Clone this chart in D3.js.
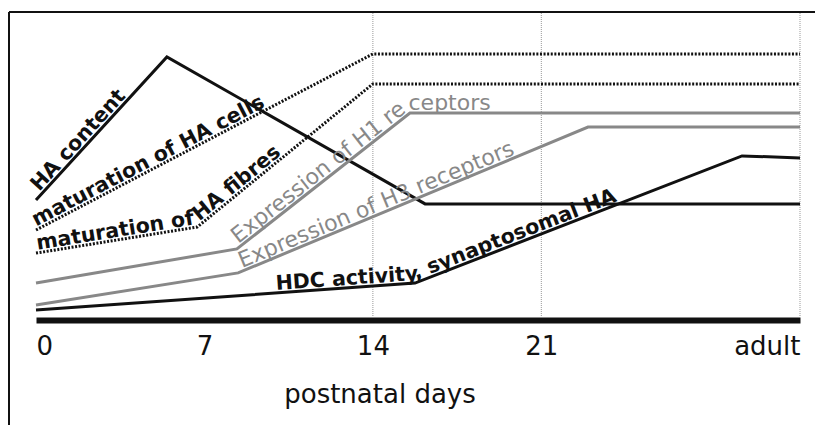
<!DOCTYPE html>
<html>
<head>
<meta charset="utf-8">
<script src="https://cdn.jsdelivr.net/npm/d3@7"></script>
<style>
  body { margin: 0; background: #fff; }
  svg { display: block; }
  .tick-label { font-family: "DejaVu Sans", sans-serif; font-size: 26px; fill: #111; }
  .curve-label { font-family: "DejaVu Sans", sans-serif; }
</style>
</head>
<body>
<svg id="chart"></svg>
<script>
// x positions are postnatal days, "adult" sits at the far right end
const tickDays = [0, 7, 14, 21, 31.75];
const tickLabels = ['0', '7', '14', '21', 'adult'];
const gridDays = [14, 21, 31.75];

// relative levels (0-100)
const haContent = [[0, 40], [5.44, 87.7], [16.17, 38.7], [31.75, 38.7]];
const haCells = [[0, 30], [14, 88.7], [31.75, 88.7]];
const haFibres = [[0, 22.3], [6.7, 31], [14, 78.7], [31.75, 78.7]];
const h1Receptors = [[0, 12.3], [8.35, 23.7], [15.54, 69], [31.75, 69]];
const h3Receptors = [[0, 5], [8.4, 15.7], [22.94, 64.3], [31.75, 64.3]];
const hdcActivity = [[0, 3.3], [15.75, 12.3], [29.34, 54.7], [31.75, 54]];

const series = [
    { id: 'ha-content', data: haContent, label: 'HA content', color: '#111', dotted: false, gray: false, offset: 8 },
    { id: 'ha-cells', data: haCells, label: 'maturation of HA cells', color: '#111', dotted: true, gray: false, offset: 2 },
    { id: 'ha-fibres', data: haFibres, label: 'maturation of HA fibres', color: '#111', dotted: true, gray: false, offset: 2 },
    { id: 'h1', data: h1Receptors, label: 'Expression of H1 receptors', color: '#888', dotted: false, gray: true, offset: 208 },
    { id: 'h3', data: h3Receptors, label: 'Expression of H3 receptors', color: '#888', dotted: false, gray: true, offset: 210 },
    { id: 'hdc', data: hdcActivity, label: 'HDC activity, synaptosomal HA', color: '#111', dotted: false, gray: false, offset: 241 }
];

const W = 815, H = 425;
const svg = d3.select('#chart').attr('width', W).attr('height', H);

const x = d3.scaleLinear().domain([0, 31.75]).range([36, 800]);
const y = d3.scaleLinear().domain([0, 100]).range([320, 20]);

// frame: top and left edges only
svg.append('line').attr('x1', 9).attr('x2', W).attr('y1', 12).attr('y2', 12)
    .attr('stroke', '#111').attr('stroke-width', 2);
svg.append('line').attr('x1', 9).attr('x2', 9).attr('y1', 12).attr('y2', H)
    .attr('stroke', '#111').attr('stroke-width', 2);

// dotted vertical grid
svg.append('g').selectAll('line')
    .data(gridDays)
    .enter()
    .append('line')
    .attr('x1', d => x(d)).attr('x2', d => x(d))
    .attr('y1', 13).attr('y2', 317)
    .attr('stroke', '#999').attr('stroke-width', 1)
    .attr('stroke-dasharray', '1,1');

const line = d3.line().x(d => x(d[0])).y(d => y(d[1]));

// curves
svg.append('g').selectAll('path')
    .data(series)
    .enter()
    .append('path')
    .attr('id', d => d.id)
    .attr('d', d => line(d.data))
    .attr('fill', 'none')
    .attr('stroke', d => d.color)
    .attr('stroke-width', 3)
    .attr('stroke-dasharray', d => d.dotted ? '2,1.6' : null);

// labels written along the curves
svg.append('g').selectAll('text')
    .data(series)
    .enter()
    .append('text')
    .attr('class', 'curve-label')
    .attr('dy', -3)
    .attr('fill', d => d.color)
    .attr('font-size', d => d.gray ? 22 : 20.5)
    .attr('font-weight', d => d.gray ? 'normal' : 'bold')
    .append('textPath')
    .attr('href', d => '#' + d.id)
    .attr('startOffset', d => d.offset)
    .text(d => d.label);

// x axis: thick base bar with labels
const axis = svg.append('g')
    .attr('transform', `translate(0,${y(0)})`)
    .call(d3.axisBottom(x)
        .tickValues(tickDays)
        .tickFormat((d, i) => tickLabels[i])
        .tickSize(0)
        .tickSizeOuter(0)
    );
axis.select('.domain').attr('stroke', '#111').attr('stroke-width', 6);
axis.selectAll('.tick text')
    .attr('class', 'tick-label')
    .attr('y', 35)
    .attr('dy', null)
    .attr('text-anchor', (d, i) => i === 0 ? 'start' : (i === tickDays.length - 1 ? 'end' : 'middle'));
axis.attr('font-family', null).attr('font-size', null);

svg.append('text')
    .attr('class', 'tick-label')
    .attr('x', 380)
    .attr('y', 403)
    .attr('text-anchor', 'middle')
    .text('postnatal days');
</script>
</body>
</html>
